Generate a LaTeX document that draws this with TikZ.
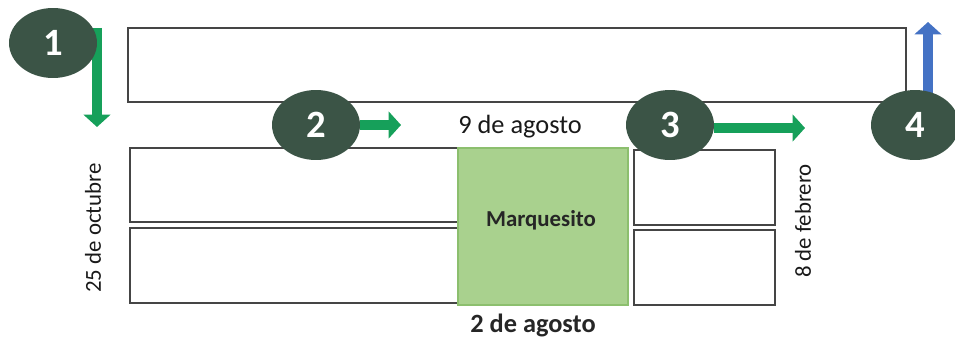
\documentclass[tikz,border=0pt]{standalone}
\usepackage{fontspec}
\setmainfont{Carlito}
\usepackage{tikz}
\usetikzlibrary{shapes.geometric,arrows.meta}
\newcommand{\pxScale}[0]{0.02cm}
\newcommand{\arrowWidth}[0]{5.5pt}
\newcommand{\arrowTip}[0]{Triangle[length=7pt,width=15pt]}
\newcommand{\fecha}[1]{\fontsize{13}{15}\selectfont #1}
\definecolor{darkslate}{HTML}{3B5446}
\definecolor{arrowgreen}{HTML}{16A05A}
\definecolor{arrowblue}{HTML}{4472C4}
\definecolor{boxgreen}{HTML}{A9D18E}
\definecolor{boxgreenline}{HTML}{8CBF6E}
\definecolor{boxline}{HTML}{454545}

\begin{document}
\begin{tikzpicture}[x=\pxScale, y=-\pxScale]
  \tikzset{every node/.style={inner sep=0pt, outer sep=0pt},
    caja/.style={draw=boxline, line width=0.8pt, fill=white, rectangle},
    numero/.style={ellipse, fill=darkslate, minimum width=1.76cm, minimum height=1.4cm,
      text=white, font=\fontsize{22}{24}\selectfont\bfseries}}
  \useasboundingbox (0,0) rectangle (955,341);
  \node[caja, minimum width=15.56cm, minimum height=1.48cm] (linea-1) at (517,65) {};
  \node[caja, minimum width=6.56cm, minimum height=1.48cm] (caja-1-1) at (294,185) {};
  \node[caja, minimum width=6.56cm, minimum height=1.5cm] (caja-1-2) at (294,265.5) {};
  \node[draw=boxgreenline, fill=boxgreen, line width=0.8pt, minimum width=3.4cm, minimum height=3.14cm] (caja-2) at (543,226.5) {};
  \node[caja, minimum width=2.82cm, minimum height=1.5cm] (caja-3-1) at (704.5,187.5) {};
  \node[caja, minimum width=2.82cm, minimum height=1.5cm] (caja-3-2) at (704.5,267.5) {};
  \node[font=\fontsize{13}{15}\selectfont\bfseries, text=black!85] (marq) at (541,220) {Marquesito};
  \node[font=\fontsize{15}{17}\selectfont, text=black!90] (fecha-1) at (520,127) {9 de agosto};
  \node[font=\fontsize{15}{17}\selectfont\bfseries, text=black!85] (fecha-2) at (533,325) {2 de agosto};
  \node[rotate=90, text=black!90] (fecha-3) at (93,228) {\fecha{25 de octubre}};
  \node[rotate=90, text=black!90] (fecha-4) at (803,221) {\fecha{8 de febrero}};
  \coordinate (inicio-1) at (97,28);
  \coordinate (fin-1) at (97,127);
  \coordinate (fin-2) at (401,125);
  \coordinate (fin-3) at (805,128);
  \coordinate (inicio-4) at (928,110);
  \coordinate (fin-4) at (928,22);
  \draw[arrowgreen, line width=\arrowWidth, -{\arrowTip}] (inicio-1) -- (fin-1);
  \draw[arrowblue, line width=\arrowWidth, -{\arrowTip}] (inicio-4) -- (fin-4);
  \node[numero] (num-1) at (53,43) {1};
  \node[numero] (num-2) at (316,125) {2};
  \node[numero] (num-3) at (670,125) {3};
  \node[numero] (num-4) at (915,125) {4};
  \draw[arrowgreen, line width=\arrowWidth, -{\arrowTip}] (num-2.east) -- (fin-2);
  \draw[arrowgreen, line width=\arrowWidth, -{\arrowTip}] (num-3.east |- fin-3) -- (fin-3);
\end{tikzpicture}
\end{document}
